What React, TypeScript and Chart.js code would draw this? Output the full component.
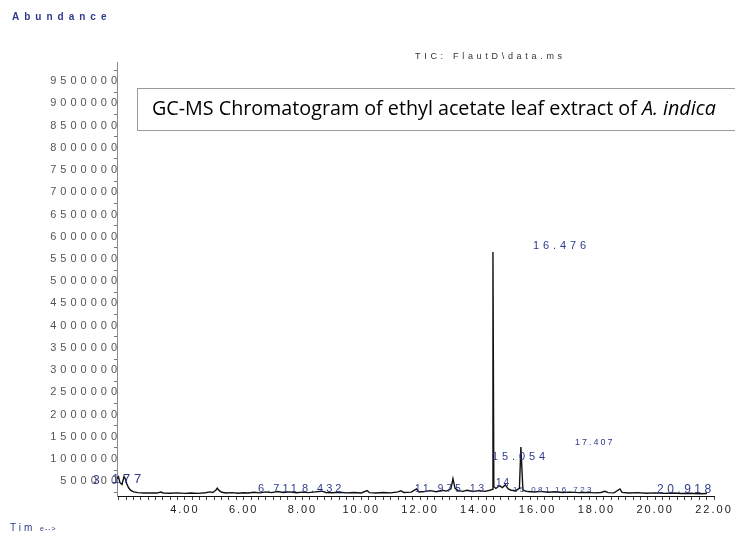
import React, { useEffect, useRef } from 'react';
import { Chart, registerables } from 'chart.js';

Chart.register(...registerables);

// ---- data (retention time in minutes, abundance) ----
const retentionTimes = [
  1.69, 1.74, 1.79, 1.86, 1.93, 1.97, 2.02, 2.08, 2.15, 2.25, 2.4, 2.6, 2.85, 3.05, 3.18, 3.26,
  3.5, 3.75, 4.0, 4.2, 4.45, 4.7, 4.85, 4.95, 5.05, 5.1, 5.17, 5.25, 5.4, 5.6, 5.8, 6.0,
  6.15, 6.35, 6.55, 6.75, 6.95, 7.15, 7.35, 7.55, 7.8, 8.0, 8.2, 8.45, 8.65, 8.8, 9.0, 9.25,
  9.5, 9.75, 10.0, 10.2, 10.28, 10.5, 10.75, 11.0, 11.25, 11.35, 11.45, 11.7, 11.88, 11.96,
  12.15, 12.35, 12.55, 12.75, 12.9, 13.05, 13.12, 13.19, 13.3, 13.45, 13.6, 13.8, 14.0, 14.2,
  14.38, 14.45, 14.48, 14.51, 14.58, 14.7, 14.8, 14.9, 15.0, 15.1, 15.25, 15.38, 15.43, 15.5,
  15.65, 15.9, 16.1, 16.35, 16.6, 16.85, 17.1, 17.4, 17.7, 17.95, 18.15, 18.29, 18.4, 18.6,
  18.8, 18.87, 19.1, 19.4, 19.7, 20.0, 20.3, 20.6, 20.9, 21.2, 21.5, 21.76,
];
const abundances = [
  560000, 600000, 470000, 430000, 610000, 560000, 450000, 360000, 300000, 262000, 245000, 238000, 240000, 236000, 258000, 238000,
  232000, 240000, 228000, 236000, 230000, 242000, 262000, 250000, 300000, 345000, 290000, 255000, 238000, 246000, 232000, 244000,
  236000, 255000, 240000, 262000, 245000, 270000, 250000, 262000, 243000, 258000, 245000, 262000, 278000, 250000, 242000, 255000,
  240000, 250000, 238000, 290000, 245000, 236000, 248000, 240000, 262000, 285000, 248000, 258000, 330000, 262000,
  270000, 290000, 265000, 300000, 280000, 330000, 560000, 340000, 290000, 275000, 300000, 270000, 290000, 275000,
  300000, 320000, 5657000, 380000, 340000, 400000, 360000, 420000, 330000, 300000, 290000, 340000, 1272000, 300000,
  270000, 260000, 275000, 255000, 265000, 250000, 258000, 245000, 252000, 240000, 248000, 275000, 245000, 240000,
  330000, 250000, 238000, 245000, 232000, 240000, 228000, 236000, 226000, 232000, 222000, 225000,
];

// ---- axis ticks ----
const xLabelTicks = [4, 6, 8, 10, 12, 14, 16, 18, 20, 22];
const yLabelTicks = [
  500000, 1000000, 1500000, 2000000, 2500000, 3000000, 3500000, 4000000, 4500000, 5000000,
  5500000, 6000000, 6500000, 7000000, 7500000, 8000000, 8500000, 9000000, 9500000,
];

// ---- peak annotations (text, retention-time anchor, abundance anchor) ----
const peakLabels = ['16.476', '15.054', '17.407', '3', '177', '6.711', '8.432', '11.975', '13', '14', '15.081', '16.723', '20.918'];
const peakLabelTimes = [15.84, 14.45, 17.27, 0.87, 1.52, 6.49, 7.98, 11.83, 13.7, 14.58, 15.16, 16.59, 20.06];
const peakLabelAbund = [5792000, 1047000, 1384000, 507000, 552000, 327000, 327000, 327000, 327000, 462000, 305000, 305000, 305000];
// style for each annotation: [font px, letter spacing px]
const peakLabelStyle = [
  [11, 3.9], [11, 3.9], [9, 2], [12, 0], [13, 3.8], [11, 3], [11, 3], [10, 3.2], [10, 3], [10, 2], [8, 2.4], [8, 2.4], [12, 3.5],
];

const NAVY = '#2e3a8c';
const X_MIN = 1.69;
const X_MAX = 22;
const Y_MIN = 170000;
const Y_MAX = 9930000;

const textPlugin = {
  id: 'chromText',
  beforeDraw(chart: any) {
    chart.ctx.letterSpacing = '2px';
  },
  afterLayout(chart: any) {
    const ys = chart.scales.y;
    if (ys && !ys.__patched) {
      const orig = ys.drawLabels.bind(ys);
      ys.drawLabels = (area: any) => {
        const ctx = chart.ctx;
        const prev = ctx.letterSpacing;
        ctx.letterSpacing = '4px';
        orig(area);
        ctx.letterSpacing = prev;
      };
      ys.__patched = true;
    }
  },
  afterDatasetsDraw(chart: any) {
    const { ctx } = chart;
    const xs = chart.scales.x;
    const ys = chart.scales.y;
    peakLabels.forEach((t, i) => {
      const [size, sp] = peakLabelStyle[i];
      ctx.save();
      ctx.font = `${size}px Arial, "Liberation Sans", sans-serif`;
      ctx.letterSpacing = `${sp}px`;
      ctx.fillStyle = NAVY;
      ctx.textAlign = 'left';
      ctx.textBaseline = 'middle';
      ctx.fillText(t, xs.getPixelForValue(peakLabelTimes[i]), ys.getPixelForValue(peakLabelAbund[i]));
      ctx.restore();
    });
  },
  afterDraw(chart: any) {
    const { ctx } = chart;
    ctx.save();
    ctx.textBaseline = 'middle';
    ctx.textAlign = 'left';
    // Abundance
    ctx.font = 'bold 10px Arial, "Liberation Sans", sans-serif';
    ctx.letterSpacing = '5px';
    ctx.fillStyle = NAVY;
    ctx.fillText('Abundance', 12, 17);
    // TIC
    ctx.font = '9px Arial, "Liberation Sans", sans-serif';
    ctx.letterSpacing = '3.7px';
    ctx.fillStyle = '#333';
    ctx.fillText('TIC: FlautD\\data.ms', 415, 57);
    // Time
    ctx.font = '10px Arial, "Liberation Sans", sans-serif';
    ctx.letterSpacing = '3px';
    ctx.fillStyle = NAVY;
    ctx.fillText('Tim', 10, 528);
    ctx.font = '7px Arial, "Liberation Sans", sans-serif';
    ctx.letterSpacing = '1px';
    ctx.fillText('e-->', 40, 529);
    // title box
    ctx.letterSpacing = '0px';
    ctx.strokeStyle = '#9a9a9a';
    ctx.lineWidth = 1;
    ctx.fillStyle = '#fff';
    ctx.fillRect(137.5, 88.5, 640, 42);
    ctx.strokeRect(137.5, 88.5, 640, 42);
    const p1 = 'GC-MS Chromatogram of ethyl acetate leaf extract of ';
    const p2 = 'A. indica';
    let size = 18;
    ctx.font = `${size}px "Open Sans", Lato, sans-serif`;
    const w1 = ctx.measureText(p1).width;
    ctx.font = `italic ${size}px "Open Sans", Lato, sans-serif`;
    const w2 = ctx.measureText(p2).width;
    size = (size * 564) / (w1 + w2);
    ctx.fillStyle = '#000';
    ctx.textBaseline = 'alphabetic';
    ctx.font = `${size}px "Open Sans", Lato, sans-serif`;
    const w1b = ctx.measureText(p1).width;
    ctx.fillText(p1, 152, 115);
    ctx.font = `italic ${size}px "Open Sans", Lato, sans-serif`;
    ctx.fillText(p2, 152 + w1b, 115);
    ctx.restore();
  },
};

export default function App() {
  const ref = useRef<HTMLCanvasElement | null>(null);

  useEffect(() => {
    document.body.style.margin = '0';
    if (!ref.current) return;
    const xTicksAll: number[] = [];
    for (let q = 7; q <= 88; q++) xTicksAll.push(q / 4);
    const yTicksAll: number[] = [];
    for (let q = 1; q <= 39; q++) yTicksAll.push(q * 250000);

    const chart = new Chart(ref.current, {
      type: 'line',
      data: {
        datasets: [
          {
            data: retentionTimes.map((t, i) => ({ x: t, y: abundances[i] })),
            borderColor: '#111',
            borderWidth: 1.4,
            pointRadius: 0,
            tension: 0,
            fill: false,
          },
        ],
      },
      options: {
        animation: false,
        responsive: false,
        events: [],
        layout: { padding: { left: 0, right: 21, top: 62, bottom: 0 } },
        plugins: { legend: { display: false }, tooltip: { enabled: false }, title: { display: false } },
        scales: {
          x: {
            type: 'linear',
            min: X_MIN,
            max: X_MAX,
            afterBuildTicks: (scale: any) => {
              scale.ticks = xTicksAll.map((v) => ({ value: v }));
            },
            afterFit: (scale: any) => {
              scale.height = 39;
            },
            grid: { drawOnChartArea: false, drawTicks: true, tickLength: 4, color: '#444' },
            border: { color: '#111', width: 1 },
            ticks: {
              autoSkip: false,
              maxRotation: 0,
              minRotation: 0,
              padding: 3,
              color: '#222',
              font: { family: 'Arial, "Liberation Sans", sans-serif', size: 11 },
              callback: (value: any) => (xLabelTicks.includes(Number(value)) ? Number(value).toFixed(2) : ''),
            },
          },
          y: {
            type: 'linear',
            min: Y_MIN,
            max: Y_MAX,
            afterBuildTicks: (scale: any) => {
              scale.ticks = yTicksAll.map((v) => ({ value: v }));
            },
            afterFit: (scale: any) => {
              scale.width = 117;
            },
            grid: {
              drawOnChartArea: false,
              drawTicks: true,
              tickLength: 3,
              color: (c: any) => (c.tick && yLabelTicks.includes(c.tick.value) ? 'rgba(0,0,0,0)' : '#777'),
            },
            border: { color: '#8a8a8a', width: 1, dash: [5, 6.1] },
            ticks: {
              autoSkip: false,
              padding: -7,
              color: '#555',
              font: { family: 'Arial, "Liberation Sans", sans-serif', size: 11 },
              callback: (value: any) => (yLabelTicks.includes(Number(value)) ? String(value) : ''),
            },
          },
        },
      },
      plugins: [textPlugin],
    });
    return () => chart.destroy();
  }, []);

  return (
    <div style={{ width: 735, height: 535, background: '#fff' }}>
      <canvas ref={ref} width={735} height={535} style={{ display: 'block' }} />
    </div>
  );
}
